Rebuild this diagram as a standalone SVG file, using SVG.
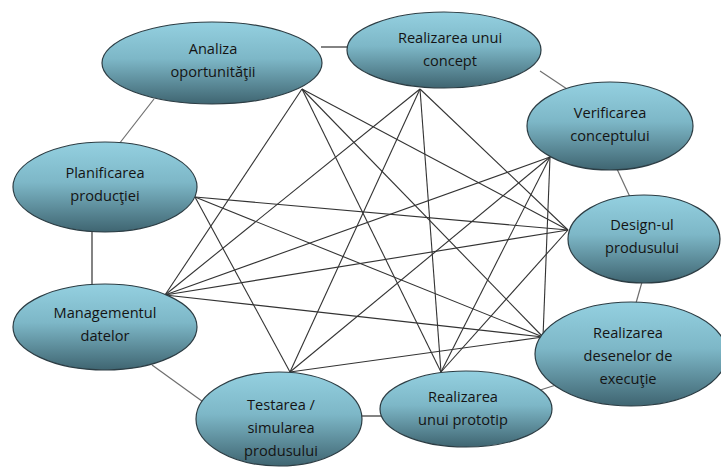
<svg xmlns="http://www.w3.org/2000/svg" width="721" height="468" viewBox="0 0 721 468">
  <defs>
    <linearGradient id="fill" x1="0" y1="0" x2="0" y2="1">
      <stop offset="0" stop-color="#94d0e0"/>
      <stop offset="0.45" stop-color="#7db7c7"/>
      <stop offset="1" stop-color="#3f6571"/>
    </linearGradient>
  </defs>
  <style>
    .node ellipse { fill: url(#fill); stroke: #2c3d44; stroke-width: 1.2; }
    .node text { font-family: "Open Sans", "Liberation Sans", sans-serif; font-size: 14.6px; fill: #141414; text-anchor: middle; }
    .edges line { stroke: #333333; stroke-width: 1.1; }
    .edges line.ring { stroke: #1e1e1e; }
    .edges line.soft { stroke: #6e6e6e; stroke-width: 1.2; }
  </style>
  <rect width="721" height="468" fill="#ffffff"/>

  <g id="connectors" class="edges">
    <!-- outer ring -->
    <line class="ring" x1="321" y1="47" x2="349" y2="47"/>
    <line class="soft" x1="540" y1="71" x2="567" y2="89"/>
    <line class="soft" x1="617" y1="169" x2="630" y2="197"/>
    <line class="soft" x1="642" y1="282" x2="636" y2="303"/>
    <line class="soft" x1="534" y1="392" x2="556" y2="385"/>
    <line class="ring" x1="357" y1="416" x2="381" y2="416"/>
    <line class="soft" x1="152" y1="365" x2="206" y2="404"/>
    <line class="ring" x1="92" y1="231" x2="92" y2="286"/>
    <line class="soft" x1="119" y1="144" x2="154" y2="99"/>
    <!-- cross links -->
    <line x1="302" y1="89" x2="165" y2="295"/>
    <line x1="302" y1="89" x2="441" y2="372"/>
    <line x1="302" y1="89" x2="543" y2="337"/>
    <line x1="302" y1="89" x2="568" y2="230"/>
    <line x1="420" y1="89" x2="165" y2="295"/>
    <line x1="420" y1="89" x2="290" y2="372"/>
    <line x1="420" y1="89" x2="441" y2="372"/>
    <line x1="420" y1="89" x2="568" y2="230"/>
    <line x1="550" y1="157" x2="165" y2="295"/>
    <line x1="550" y1="157" x2="290" y2="372"/>
    <line x1="550" y1="157" x2="441" y2="372"/>
    <line x1="550" y1="157" x2="543" y2="337"/>
    <line x1="195" y1="197" x2="568" y2="230"/>
    <line x1="195" y1="197" x2="543" y2="337"/>
    <line x1="195" y1="197" x2="290" y2="372"/>
    <line x1="165" y1="295" x2="568" y2="230"/>
    <line x1="165" y1="295" x2="543" y2="337"/>
    <line x1="290" y1="372" x2="543" y2="337"/>
    <line x1="441" y1="372" x2="568" y2="230"/>
  </g>

  <g id="analiza" class="node">
    <ellipse cx="212" cy="63" rx="110" ry="41"/>
    <text x="213" y="54">Analiza</text>
    <text x="213" y="77">oportunităţii</text>
  </g>
  <g id="concept" class="node">
    <ellipse cx="444" cy="50" rx="97" ry="38"/>
    <text x="450" y="43">Realizarea unui</text>
    <text x="450" y="66">concept</text>
  </g>
  <g id="verificarea" class="node">
    <ellipse cx="610" cy="126" rx="83" ry="44"/>
    <text x="610" y="118">Verificarea</text>
    <text x="610" y="141">conceptului</text>
  </g>
  <g id="planificarea" class="node">
    <ellipse cx="105" cy="187" rx="92" ry="45"/>
    <text x="105" y="178">Planificarea</text>
    <text x="105" y="201">producţiei</text>
  </g>
  <g id="design" class="node">
    <ellipse cx="644" cy="239" rx="76" ry="44"/>
    <text x="642" y="230">Design-ul</text>
    <text x="642" y="253">produsului</text>
  </g>
  <g id="managementul" class="node">
    <ellipse cx="105" cy="327" rx="92" ry="43"/>
    <text x="105" y="318">Managementul</text>
    <text x="105" y="341">datelor</text>
  </g>
  <g id="desene" class="node">
    <ellipse cx="631" cy="354" rx="96" ry="52"/>
    <text x="628" y="338">Realizarea</text>
    <text x="628" y="361">desenelor de</text>
    <text x="628" y="384">execuţie</text>
  </g>
  <g id="testarea" class="node">
    <ellipse cx="279" cy="419" rx="83" ry="47"/>
    <text x="281" y="410">Testarea /</text>
    <text x="281" y="433">simularea</text>
    <text x="281" y="456">produsului</text>
  </g>
  <g id="prototip" class="node">
    <ellipse cx="466" cy="409" rx="86" ry="38"/>
    <text x="463" y="402">Realizarea</text>
    <text x="463" y="425">unui prototip</text>
  </g>
</svg>
